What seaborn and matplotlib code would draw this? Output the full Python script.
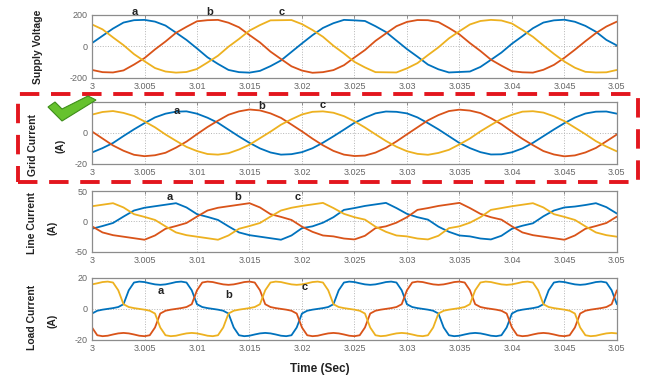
import numpy as np
import pandas as pd
import matplotlib
matplotlib.use('Agg')
import matplotlib.pyplot as plt
import seaborn as sns
from matplotlib.patches import Rectangle, Polygon

# %%
# valores (t em segundos)
t_1ms = np.linspace(3.0, 3.05, 51)
t_05ms = np.linspace(3.0, 3.05, 101)

phases = ['a', 'b', 'c']
phase_colors = ['#0072BD', '#D95319', '#EDB120']

xtick_vals = [3.0, 3.005, 3.01, 3.015, 3.02, 3.025, 3.03, 3.035, 3.04, 3.045, 3.05]
xtick_text = ['3', '3.005', '3.01', '3.015', '3.02', '3.025', '3.03', '3.035', '3.04', '3.045', '3.05']

# Supply Voltage
supply_a = [20, 66, 112, 150, 165, 167, 156, 131, 86, 40,
            -14, -70, -112, -150, -164, -167, -156, -126, -90, -36,
            18, 70, 116, 146, 167, 164, 160, 127, 90, 36,
            -18, -66, -116, -146, -166, -163, -160, -131, -86, -40,
            16, 64, 114, 150, 164, 168, 155, 129, 92, 40,
            5]
supply_b = [-150, -164, -166, -153, -116, -75, -20, 30, 85, 123,
            158, 165, 167, 149, 120, 71, 24, -34, -81, -127,
            -154, -168, -164, -151, -120, -71, -24, 34, 81, 127,
            154, 166, 165, 153, 116, 75, 20, -30, -85, -123,
            -158, -165, -167, -149, -118, -73, -22, 32, 83, 125,
            156]
supply_c = [138, 107, 56, 7, -50, -95, -138, -160, -167, -163,
            -144, -103, -60, -3, 46, 99, 134, 164, 165, 166,
            140, 103, 60, 3, -46, -99, -134, -164, -165, -166,
            -140, -107, -56, -7, 50, 95, 138, 160, 167, 163,
            144, 103, 60, 5, -48, -97, -136, -162, -166, -165,
            -150]

# Grid Current
grid_a = [-12.6, -9.8, -6.5, -2.0, 2.3, 6.3, 10.0, 12.4, 13.7, 13.9,
          12.4, 9.8, 6.5, 2.1, -2.3, -6.4, -10.0, -12.6, -14.0, -13.7,
          -12.4, -9.9, -6.3, -2.2, 2.1, 6.5, 9.8, 12.6, 13.8, 13.6,
          12.6, 10.0, 6.3, 2.3, -2.1, -6.5, -9.8, -12.4, -13.9, -13.8,
          -12.5, -10.0, -6.4, -2.1, 2.2, 6.3, 9.9, 12.5, 13.7, 13.8,
          12.4]
grid_b = [0.9, -3.6, -8.1, -11.5, -14.1, -15.0, -14.4, -12.8, -9.5, -5.6,
          -0.8, 3.8, 7.9, 11.7, 13.9, 15.1, 14.5, 12.6, 9.7, 5.4,
          1.0, -3.7, -8.0, -11.6, -14.0, -14.9, -14.6, -12.7, -9.6, -5.5,
          -0.9, 3.6, 8.1, 11.5, 14.1, 15.0, 14.4, 12.8, 9.5, 5.6,
          0.8, -3.8, -7.9, -11.7, -13.9, -15.1, -14.5, -12.6, -9.7, -5.4,
          -1.0]
grid_c = [11.8, 13.5, 14.1, 12.9, 10.9, 7.4, 3.6, -1.0, -5.1, -9.0,
          -11.7, -13.6, -14.0, -13.1, -10.7, -7.6, -3.4, 0.8, 5.3, 8.8,
          11.9, 13.6, 13.9, 13.0, 10.8, 7.5, 3.5, -0.9, -5.2, -8.9,
          -11.8, -13.5, -14.1, -12.9, -10.9, -7.4, -3.6, 1.0, 5.1, 9.0,
          11.7, 13.7, 14.0, 13.1, 10.7, 7.6, 3.4, -0.8, -5.3, -8.8,
          -11.9]

# Line Current
line_a = [-12, -7.5, -2.5, 8, 18, 22.5, 25, 27.5, 30, 23,
          12, 7.5, 2.5, -8, -18, -22.5, -25, -27.5, -30, -23,
          -11, -8, -2, 7, 19, 22, 25.5, 28, 30.5, 22,
          12.5, 7, 3, -8.5, -17, -23, -24.5, -28, -29.5, -23.5,
          -12, -7, -3, 8.5, 18, 23, 24.5, 27, 30, 23.5,
          13]
line_b = [-8, -18, -22.5, -25, -27.5, -30, -23, -12, -7.5, -2.5,
          8, 18, 22.5, 25, 27.5, 30, 23, 12, 7.5, 2.5,
          -8.5, -17, -23, -24.5, -28, -29.5, -23.5, -11, -8, -2,
          7, 19, 22, 25.5, 28, 30.5, 22, 12.5, 7, 3,
          -8, -18, -22.5, -25, -27.5, -30, -23, -12, -7.5, -2.5,
          8]
line_c = [25, 27.5, 30, 23, 12, 7.5, 2.5, -8, -18, -22.5,
          -25, -27.5, -30, -23, -12, -7.5, -2.5, 8, 18, 22.5,
          25.5, 28, 30.5, 22, 12.5, 7, 3, -8.5, -17, -23,
          -24.5, -28, -29.5, -23.5, -11, -8, -2, 7, 19, 22,
          25, 27.5, 30, 23, 12, 7.5, 2.5, -8, -18, -22.5,
          -25]

# Load Current (passo de 0.5 ms)
load_a = [-3.0, -1.2, -0.5, 0, 0.5, 1.2, 3.0, 12.0, 17.0, 17.6,
          17.3, 16.5, 15.8, 15.5, 15.8, 16.5, 17.3, 17.6, 17.0, 12.0,
          3.0, 1.2, 0.5, 0, -0.5, -1.2, -3.0, -12.0, -17.0, -17.6,
          -17.3, -16.5, -15.8, -15.5, -15.8, -16.5, -17.3, -17.6, -17.0, -12.0,
          -3.0, -1.2, -0.5, 0, 0.5, 1.2, 3.0, 12.0, 17.0, 17.6,
          17.3, 16.5, 15.8, 15.5, 15.8, 16.5, 17.3, 17.6, 17.0, 12.0,
          3.0, 1.2, 0.5, 0, -0.5, -1.2, -3.0, -12.0, -17.0, -17.6,
          -17.3, -16.5, -15.8, -15.5, -15.8, -16.5, -17.3, -17.6, -17.0, -12.0,
          -3.0, -1.2, -0.5, 0, 0.5, 1.2, 3.0, 12.0, 17.0, 17.6,
          17.3, 16.5, 15.8, 15.5, 15.8, 16.5, 17.3, 17.6, 17.0, 12.0,
          3.0]
load_b = [-12.0, -17.0, -17.6, -17.3, -16.5, -15.8, -15.5, -15.8, -16.5, -17.3,
          -17.6, -17.0, -12.0, -3.0, -1.2, -0.5, 0, 0.5, 1.2, 3.0,
          12.0, 17.0, 17.6, 17.3, 16.5, 15.8, 15.5, 15.8, 16.5, 17.3,
          17.6, 17.0, 12.0, 3.0, 1.2, 0.5, 0, -0.5, -1.2, -3.0,
          -12.0, -17.0, -17.6, -17.3, -16.5, -15.8, -15.5, -15.8, -16.5, -17.3,
          -17.6, -17.0, -12.0, -3.0, -1.2, -0.5, 0, 0.5, 1.2, 3.0,
          12.0, 17.0, 17.6, 17.3, 16.5, 15.8, 15.5, 15.8, 16.5, 17.3,
          17.6, 17.0, 12.0, 3.0, 1.2, 0.5, 0, -0.5, -1.2, -3.0,
          -12.0, -17.0, -17.6, -17.3, -16.5, -15.8, -15.5, -15.8, -16.5, -17.3,
          -17.6, -17.0, -12.0, -3.0, -1.2, -0.5, 0, 0.5, 1.2, 3.0,
          12.0]
load_c = [15.8, 16.5, 17.3, 17.6, 17.0, 12.0, 3.0, 1.2, 0.5, 0,
          -0.5, -1.2, -3.0, -12.0, -17.0, -17.6, -17.3, -16.5, -15.8, -15.5,
          -15.8, -16.5, -17.3, -17.6, -17.0, -12.0, -3.0, -1.2, -0.5, 0,
          0.5, 1.2, 3.0, 12.0, 17.0, 17.6, 17.3, 16.5, 15.8, 15.5,
          15.8, 16.5, 17.3, 17.6, 17.0, 12.0, 3.0, 1.2, 0.5, 0,
          -0.5, -1.2, -3.0, -12.0, -17.0, -17.6, -17.3, -16.5, -15.8, -15.5,
          -15.8, -16.5, -17.3, -17.6, -17.0, -12.0, -3.0, -1.2, -0.5, 0,
          0.5, 1.2, 3.0, 12.0, 17.0, 17.6, 17.3, 16.5, 15.8, 15.5,
          15.8, 16.5, 17.3, 17.6, 17.0, 12.0, 3.0, 1.2, 0.5, 0,
          -0.5, -1.2, -3.0, -12.0, -17.0, -17.6, -17.3, -16.5, -15.8, -15.5,
          -15.8]

# %%
sns.set_style('white')
plt.rcParams['font.family'] = ['Liberation Sans', 'DejaVu Sans']

fig = plt.figure(figsize=(6.48, 3.76), dpi=100)

# [bottom, height] de cada painel em fração da figura
panels = [
    (t_1ms, [supply_a, supply_b, supply_c], (-200, 200), [-200, 0, 200], ['-200', '0', '200'], 0.793, 0.168),
    (t_1ms, [grid_a, grid_b, grid_c], (-20, 20), [-20, 0, 20], ['-20', '0', ''], 0.564, 0.165),
    (t_1ms, [line_a, line_b, line_c], (-50, 50), [-50, 0, 50], ['-50', '0', '50'], 0.330, 0.162),
    (t_05ms, [load_a, load_b, load_c], (-20, 20), [-20, 0, 20], ['-20', '0', '20'], 0.096, 0.165),
]

axes = []
for t, series, ylim, yt, ytl, bottom, height in panels:
    ax = fig.add_axes([0.142, bottom, 0.810, height])
    df = pd.DataFrame({
        'time': np.tile(t, 3),
        'value': np.concatenate([np.asarray(s, dtype=float) for s in series]),
        'phase': np.repeat(phases, len(t)),
    })
    sns.lineplot(data=df, x='time', y='value', hue='phase', palette=phase_colors,
                 linewidth=1.3, legend=False, estimator=None, ax=ax)
    ax.set_xlim(3.0, 3.05)
    ax.set_ylim(*ylim)
    ax.set_xticks(xtick_vals)
    ax.set_xticklabels(xtick_text)
    ax.set_yticks(yt)
    ax.set_yticklabels(ytl)
    ax.set_xlabel('')
    ax.set_ylabel('')
    ax.grid(True, linestyle=':', color='#b5b5b5', linewidth=0.7)
    ax.tick_params(direction='in', length=2.5, width=0.6, colors='#808080',
                   labelcolor='#666666', labelsize=6.5, top=True, right=True, pad=3)
    for sp in ax.spines.values():
        sp.set_color('#8c8c8c')
        sp.set_linewidth(0.9)
    axes.append(ax)

# rótulos das fases
label_pos = [
    [(3.0041, 219), (3.0112, 219), (3.0181, 219)],
    [(3.0081, 14.2), (3.0162, 17.4), (3.0220, 18.0)],
    [(3.0074, 40), (3.0139, 40), (3.0196, 40)],
    [(3.0065, 11.6), (3.0130, 9.0), (3.0203, 14.2)],
]
for ax, pos in zip(axes, label_pos):
    for name, (x, y) in zip(phases, pos):
        ax.text(x, y, name, fontsize=8, fontweight='bold', ha='center', va='center',
                color='#222222', clip_on=False, zorder=5)

# rótulos dos eixos y
W, H = 648.0, 376.0
ylab = [
    ('Supply Voltage', 38, 47),
    ('Grid Current', 33, 145), ('(A)', 60, 146),
    ('Line Current', 32, 223), ('(A)', 53, 228),
    ('Load Current', 32, 317), ('(A)', 53, 321),
]
for txt, px, py in ylab:
    fig.text(px / W, 1 - py / H, txt, rotation=90, ha='center', va='center',
             fontsize=7.5, fontweight='bold', color='#222222')

fig.text(320 / W, 1 - 369 / H, 'Time (Sec)', ha='center', va='center',
         fontsize=8.5, fontweight='bold', color='#222222')

# retângulo tracejado vermelho em volta da corrente da rede
rect = Rectangle((18 / W, 1 - 182 / H), (638 - 18) / W, (182 - 94) / H,
                 transform=fig.transFigure, fill=False, edgecolor='#E3161E',
                 linewidth=2.8, linestyle=(0, (5, 3)), zorder=10)
fig.patches.append(rect)

# marca de verificação verde
check_px = [(48, 107), (55, 102), (62, 109), (88, 96), (96, 100), (62, 121)]
check = Polygon([(x / W, 1 - y / H) for x, y in check_px], closed=True,
                transform=fig.transFigure, facecolor='#66C22E', edgecolor='#3E8E1A',
                linewidth=0.8, zorder=11)
fig.patches.append(check)

fig.savefig('out.png', dpi=100)
